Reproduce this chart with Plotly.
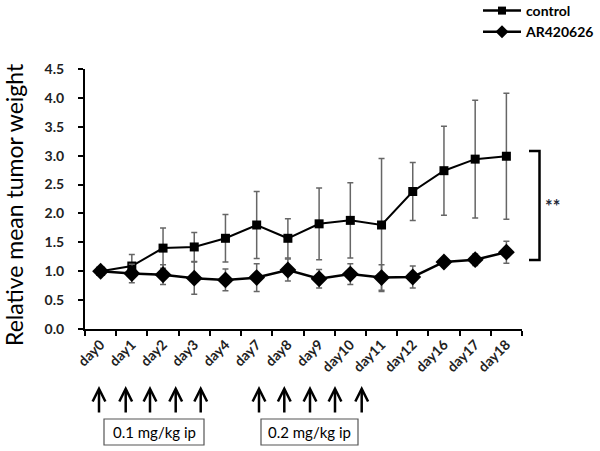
import plotly.graph_objects as go

days = ["day0", "day1", "day2", "day3", "day4", "day7", "day8", "day9",
        "day10", "day11", "day12", "day16", "day17", "day18"]
control = [1.00, 1.09, 1.40, 1.42, 1.57, 1.80, 1.57, 1.82, 1.88, 1.80, 2.38, 2.74, 2.94, 2.99]
control_err = [0.0, 0.20, 0.35, 0.25, 0.41, 0.58, 0.34, 0.62, 0.65, 1.15, 0.50, 0.77, 1.02, 1.09]
ar = [1.00, 0.96, 0.94, 0.88, 0.85, 0.89, 1.02, 0.87, 0.95, 0.89, 0.90, 1.16, 1.20, 1.33]
ar_err = [0.0, 0.16, 0.17, 0.28, 0.19, 0.24, 0.19, 0.16, 0.18, 0.22, 0.19, 0.07, 0.10, 0.19]
y_ticks = [0, 0.5, 1, 1.5, 2, 2.5, 3, 3.5, 4, 4.5]
dose_labels = ["0.1 mg/kg ip", "0.2 mg/kg ip"]
y_title = "Relative mean tumor weight"

FONT = "Lato"
L, R, T, B = 85, 78, 69, 122
W, H = 600, 451
PW, PH = W - L - R, H - T - B

def px_x(p):
    return (p - L) / PW

def px_y(p):
    return (H - B - p) / PH

fig = go.Figure()
fig.add_trace(go.Scatter(
    x=days, y=control, name="control", mode="lines+markers", showlegend=False,
    line=dict(color="black", width=2),
    marker=dict(symbol="square", size=9, color="black"),
    error_y=dict(type="data", array=control_err, color="#666666", thickness=1.5, width=3),
))
fig.add_trace(go.Scatter(
    x=days, y=ar, name="AR420626", mode="lines+markers", showlegend=False,
    line=dict(color="black", width=2.5),
    marker=dict(symbol="diamond", size=13, color="black"),
    error_y=dict(type="data", array=ar_err, color="#666666", thickness=1.5, width=3),
))
# legend entries (smaller symbols, as in the original legend)
fig.add_trace(go.Scatter(x=[None], y=[None], name="control", mode="lines+markers",
                         line=dict(color="black", width=2.5),
                         marker=dict(symbol="square", size=8, color="black")))
fig.add_trace(go.Scatter(x=[None], y=[None], name="AR420626", mode="lines+markers",
                         line=dict(color="black", width=2.5),
                         marker=dict(symbol="diamond", size=10, color="black")))

shapes = []
annotations = []

# y-axis title
annotations.append(dict(xref="paper", yref="paper", x=px_x(14), y=px_y(205),
                        xanchor="center", yanchor="middle", textangle=-90,
                        text=y_title, showarrow=False,
                        font=dict(family=FONT, size=23, color="black")))

# significance bracket
shapes.append(dict(type="path", xref="paper", yref="paper",
                   path=f"M {px_x(529)},{px_y(151)} L {px_x(539.5)},{px_y(151)} "
                        f"L {px_x(539.5)},{px_y(260)} L {px_x(529)},{px_y(260)}",
                   line=dict(color="black", width=2.5)))
annotations.append(dict(xref="paper", yref="paper", x=px_x(552), y=px_y(206),
                        xanchor="center", yanchor="middle",
                        text="<b>**</b>", showarrow=False,
                        font=dict(family=FONT, size=18, color="#1f2a3a")))

# dosing arrows
arrow_x = [99, 125.7, 150, 175.7, 200.7, 259, 284.3, 310, 335, 361.7]
for ax_ in arrow_x:
    annotations.append(dict(xref="paper", yref="paper", x=px_x(ax_), y=px_y(386),
                            axref="pixel", ayref="pixel", ax=0, ay=28,
                            text="", showarrow=True, arrowhead=5, arrowsize=1,
                            arrowwidth=2.5, arrowcolor="black"))

# dose boxes
boxes = [(104, 204), (261, 358)]
for (x0, x1), lab in zip(boxes, dose_labels):
    shapes.append(dict(type="rect", xref="paper", yref="paper",
                       x0=px_x(x0), x1=px_x(x1), y0=px_y(419), y1=px_y(445),
                       line=dict(color="#555", width=1.2), fillcolor="white"))
    annotations.append(dict(xref="paper", yref="paper", x=px_x((x0 + x1) / 2), y=px_y(432),
                            xanchor="center", yanchor="middle",
                            text=lab, showarrow=False,
                            font=dict(family=FONT, size=15, color="black")))

fig.update_layout(
    width=W, height=H,
    margin=dict(l=L, r=R, t=T, b=B, autoexpand=False),
    paper_bgcolor="white", plot_bgcolor="white",
    font=dict(family=FONT, color="black"),
    showlegend=True,
    legend=dict(x=px_x(478), y=px_y(-5), xref="paper", yref="paper",
                xanchor="left", yanchor="top",
                font=dict(family=FONT, size=14, weight="bold", color="black"),
                bgcolor="rgba(0,0,0,0)", tracegroupgap=0, itemwidth=38),
    xaxis=dict(type="category", categoryorder="array", categoryarray=days,
               range=[-0.5, len(days) - 0.5],
               showline=True, linecolor="black", linewidth=2,
               ticks="outside", ticklen=5, tickwidth=2, tickcolor="black",
               tickson="boundaries", tickangle=-45,
               tickfont=dict(family=FONT, size=14, weight="bold", color="#222"),
               showgrid=False, zeroline=False, automargin=False),
    yaxis=dict(range=[0, 4.5], tickvals=y_ticks,
               ticktext=[f"{v:.1f}" for v in y_ticks],
               showline=True, linecolor="black", linewidth=2,
               ticks="outside", ticklen=5, tickwidth=2, tickcolor="black",
               ticklabelstandoff=11,
               tickfont=dict(family=FONT, size=14, weight="bold", color="#222"),
               showgrid=False, zeroline=False, automargin=False),
    shapes=shapes, annotations=annotations,
)

fig.write_html("out.html", config={"displayModeBar": False},
               post_script="document.body.style.margin='0';")
